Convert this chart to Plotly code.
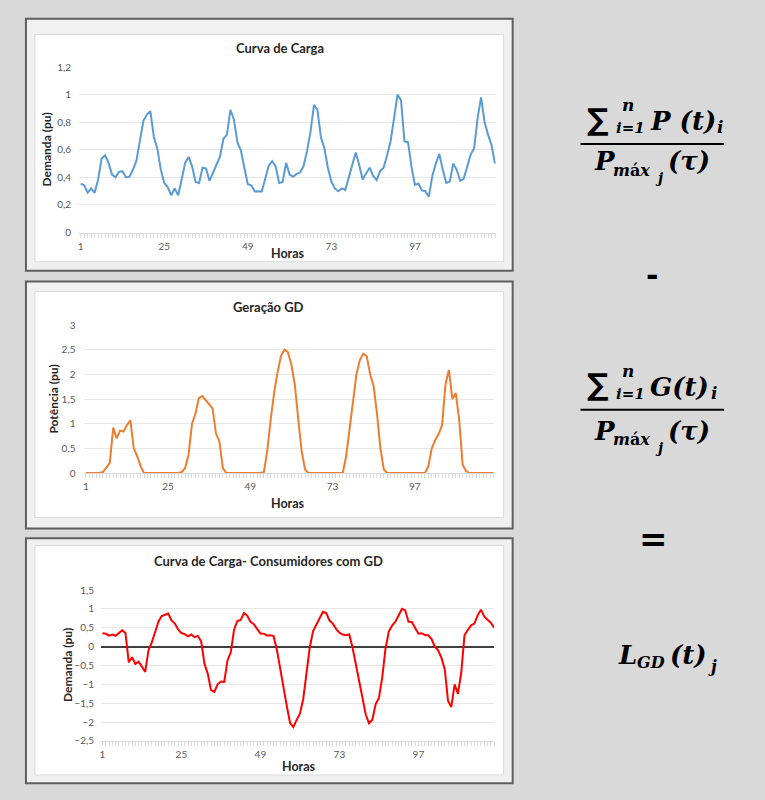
import plotly.graph_objects as go

W, H = 765, 800

horas = list(range(1, 121))

carga = [0.355, 0.343, 0.29, 0.32, 0.288, 0.385, 0.535, 0.56, 0.505, 0.42,
         0.40, 0.44, 0.445, 0.40, 0.405, 0.455, 0.52, 0.66, 0.81, 0.855,
         0.88, 0.695, 0.61, 0.457, 0.36, 0.33, 0.27, 0.32, 0.27, 0.385,
         0.505, 0.548, 0.48, 0.367, 0.36, 0.47, 0.465, 0.374, 0.433, 0.49,
         0.55, 0.68, 0.71, 0.89, 0.82, 0.655, 0.595, 0.47, 0.35, 0.343,
         0.298, 0.30, 0.298, 0.39, 0.485, 0.517, 0.48, 0.36, 0.367, 0.505,
         0.42, 0.405, 0.425, 0.435, 0.48, 0.59, 0.73, 0.925, 0.89, 0.69,
         0.61, 0.47, 0.37, 0.32, 0.30, 0.32, 0.31, 0.40, 0.49, 0.58,
         0.49, 0.385, 0.43, 0.47, 0.41, 0.38, 0.445, 0.47, 0.56, 0.66,
         0.83, 1.0, 0.96, 0.66, 0.655, 0.48, 0.345, 0.355, 0.305, 0.30,
         0.26, 0.41, 0.50, 0.57, 0.455, 0.36, 0.37, 0.50, 0.455, 0.375,
         0.39, 0.48, 0.565, 0.61, 0.83, 0.98, 0.80, 0.71, 0.635, 0.50]

geracao = [0, 0, 0, 0, 0, 0.02, 0.1, 0.2, 0.92, 0.7,
           0.86, 0.84, 0.97, 1.07, 0.5, 0.34, 0.14, 0, 0, 0,
           0, 0, 0, 0, 0, 0, 0, 0, 0.02, 0.1,
           0.37, 1.0, 1.2, 1.52, 1.56, 1.47, 1.39, 1.31, 0.8, 0.64,
           0.1, 0, 0, 0, 0, 0, 0, 0, 0, 0,
           0, 0, 0.02, 0.47, 1.1, 1.64, 2.05, 2.38, 2.5, 2.45,
           2.2, 1.8, 1.1, 0.45, 0.07, 0, 0, 0, 0, 0,
           0, 0, 0, 0, 0, 0, 0.34, 0.87, 1.44, 2.0,
           2.29, 2.42, 2.37, 2.0, 1.77, 1.2, 0.5, 0.07, 0, 0,
           0, 0, 0, 0, 0, 0, 0, 0, 0, 0,
           0.14, 0.5, 0.67, 0.79, 0.97, 1.8, 2.09, 1.5, 1.62, 1.07,
           0.17, 0.04, 0, 0, 0, 0, 0, 0, 0, 0]

liquida = [0.355, 0.343, 0.29, 0.32, 0.288, 0.365, 0.435, 0.36, -0.415, -0.28,
           -0.46, -0.40, -0.525, -0.67, -0.095, 0.115, 0.38, 0.66, 0.81, 0.855,
           0.88, 0.695, 0.61, 0.457, 0.36, 0.33, 0.27, 0.32, 0.25, 0.285,
           0.135, -0.452, -0.72, -1.153, -1.20, -1.00, -0.925, -0.936, -0.367, -0.15,
           0.45, 0.68, 0.71, 0.89, 0.82, 0.655, 0.595, 0.47, 0.35, 0.343,
           0.298, 0.30, 0.278, -0.08, -0.615, -1.123, -1.57, -2.02, -2.133, -1.945,
           -1.78, -1.395, -0.675, -0.015, 0.41, 0.59, 0.73, 0.925, 0.89, 0.69,
           0.61, 0.47, 0.37, 0.32, 0.30, 0.32, -0.03, -0.47, -0.95, -1.42,
           -1.80, -2.035, -1.94, -1.53, -1.36, -0.82, -0.055, 0.40, 0.56, 0.66,
           0.83, 1.0, 0.96, 0.66, 0.655, 0.48, 0.345, 0.355, 0.305, 0.30,
           0.2, 0.0, -0.1, -0.3, -0.6, -1.44, -1.6, -1.0, -1.25, -0.7,
           0.3, 0.44, 0.565, 0.61, 0.83, 0.98, 0.80, 0.71, 0.635, 0.50]

titulos = ["Curva de Carga", "Geração GD", "Curva de Carga- Consumidores com GD"]
titulos_y = ["Demanda (pu)", "Potência (pu)", "Demanda (pu)"]
titulo_x = "Horas"
cores = ["#5B9BD5", "#ED7D31", "#FF0000"]
series = [carga, geracao, liquida]
y_ranges = [[0, 1.2], [0, 3], [-2.5, 1.5]]
y_dticks = [0.2, 0.5, 0.5]


def fx(p):
    return p / W


def fy(p):
    return 1 - p / H


panels = [
    dict(frame=(24, 12, 512, 268), inner=(33, 28, 503, 259),
         plot=(77.3, 61, 495, 229.3), xr=[0.54, 120.2],
         title_xy=(279, 41.7), yt_xy=(45, 145), xt_xy=(286.7, 250.7), stand=7),
    dict(frame=(24, 279, 512, 530), inner=(33, 289.3, 503, 519),
         plot=(82.7, 323.3, 493, 473.7), xr=[0.62, 120.07],
         title_xy=(267.5, 305), yt_xy=(50.7, 398.5), xt_xy=(286.7, 504.3), stand=8),
    dict(frame=(24, 540, 512, 789), inner=(33, 547.3, 503, 780.7),
         plot=(99.3, 592.7, 493.5, 746), xr=[0.58, 120.03],
         title_xy=(266.7, 563.3), yt_xy=(65, 669), xt_xy=(297.3, 772), stand=6),
]

fig = go.Figure()
shapes = []
annotations = []
layout = {}

tick_font = dict(family="Lato", size=10, color="#595959")

for i, p in enumerate(panels):
    n = "" if i == 0 else str(i + 1)
    x0, y0, x1, y1 = p["frame"]
    shapes.append(dict(type="rect", xref="paper", yref="paper", layer="below",
                       x0=fx(x0), x1=fx(x1), y0=fy(y1), y1=fy(y0),
                       fillcolor="#F0F0F0", line=dict(color="#5E5E5E", width=2)))
    x0, y0, x1, y1 = p["inner"]
    shapes.append(dict(type="rect", xref="paper", yref="paper", layer="below",
                       x0=fx(x0), x1=fx(x1), y0=fy(y1), y1=fy(y0),
                       fillcolor="#FFFFFF", line=dict(color="#D9D9D9", width=1)))
    px0, py0, px1, py1 = p["plot"]
    layout["xaxis" + n] = dict(
        domain=[fx(px0), fx(px1)], anchor="y" + n, range=p["xr"],
        tickmode="linear", tick0=1, dtick=1, ticklabelstep=24,
        ticks="outside", ticklen=4, tickcolor="#D9D9D9",
        showline=True, linecolor="#D9D9D9", linewidth=1,
        showgrid=False, zeroline=False, tickfont=tick_font)
    layout["yaxis" + n] = dict(
        domain=[fy(py1), fy(py0)], anchor="x" + n,
        range=[y_ranges[i][0], y_ranges[i][1] + 1e-6],
        tickmode="linear", tick0=y_ranges[i][0], dtick=y_dticks[i],
        showgrid=True, gridcolor="#E7E7E7", gridwidth=1,
        zeroline=(i == 2), zerolinecolor="#404040", zerolinewidth=1.5,
        showline=False, ticks="", ticklabelstandoff=p["stand"],
        tickfont=tick_font)
    fig.add_trace(go.Scatter(x=horas, y=series[i], mode="lines",
                             line=dict(color=cores[i], width=2),
                             xaxis="x" + n, yaxis="y" + n, showlegend=False,
                             hoverinfo="skip"))
    tx, ty = p["title_xy"]
    annotations.append(dict(text=titulos[i], x=fx(tx), y=fy(ty), xref="paper", yref="paper",
                            showarrow=False, xanchor="center", yanchor="middle",
                            font=dict(family="Lato", size=13, color="#262626", weight="bold")))
    tx, ty = p["yt_xy"]
    annotations.append(dict(text=titulos_y[i], x=fx(tx), y=fy(ty), xref="paper", yref="paper",
                            showarrow=False, xanchor="center", yanchor="middle", textangle=-90,
                            font=dict(family="Lato", size=12, color="#262626", weight="bold")))
    tx, ty = p["xt_xy"]
    annotations.append(dict(text=titulo_x, x=fx(tx), y=fy(ty), xref="paper", yref="paper",
                            showarrow=False, xanchor="center", yanchor="middle",
                            font=dict(family="Lato", size=12.5, color="#262626", weight="bold")))


def txt(s, x, y, size, italic=True, xanchor="center", family="DejaVu Serif"):
    annotations.append(dict(text=s, x=fx(x), y=fy(y), xref="paper", yref="paper",
                            showarrow=False, xanchor=xanchor, yanchor="middle",
                            font=dict(family=family, size=size, color="#000000", weight="bold",
                                      style="italic" if italic else "normal")))


def frac_line(x0, x1, y):
    shapes.append(dict(type="line", xref="paper", yref="paper",
                       x0=fx(x0), x1=fx(x1), y0=fy(y), y1=fy(y),
                       line=dict(color="#000000", width=2)))


def fraction(numvar, dy, ddy, sub_x):
    # numerator
    txt("∑", 598, 114 + dy, 30, italic=False, family="DejaVu Sans")
    txt("n", 628, 100 + dy, 17)
    txt("i=1", 630, 123 + dy, 15)
    txt(numvar, 648, 116 + dy, 26, xanchor="left")
    txt("i", sub_x, 122 + dy, 17)
    frac_line(580, 724, 139.3 + dy)
    # denominator
    txt("P", 592, 157 + dy + ddy, 26, xanchor="left")
    txt("<i>m</i>á<i>x</i>", 611, 166 + dy + ddy, 16, italic=False, xanchor="left")
    txt("j", 659, 174 + dy + ddy, 14)
    txt("(τ)", 666, 157 + dy + ddy, 26, xanchor="left")


fraction("P (t)", 0, 0, 720)
fraction("G(t)", 270, 4, 714)

txt("-", 652, 273, 30, italic=False, family="DejaVu Sans")
txt("=", 653, 541, 34, italic=False, family="DejaVu Sans")

txt("L", 616, 659, 26, xanchor="left")
txt("GD", 635, 666, 16, xanchor="left")
txt("(t)", 668, 659, 26, xanchor="left")
txt("j", 712, 670, 16)

fig.update_layout(
    width=W, height=H, margin=dict(l=0, r=0, t=0, b=0),
    paper_bgcolor="#D9D9D9", plot_bgcolor="rgba(0,0,0,0)",
    separators=",.", shapes=shapes, annotations=annotations,
    **layout)

fig.write_html("out.html")
